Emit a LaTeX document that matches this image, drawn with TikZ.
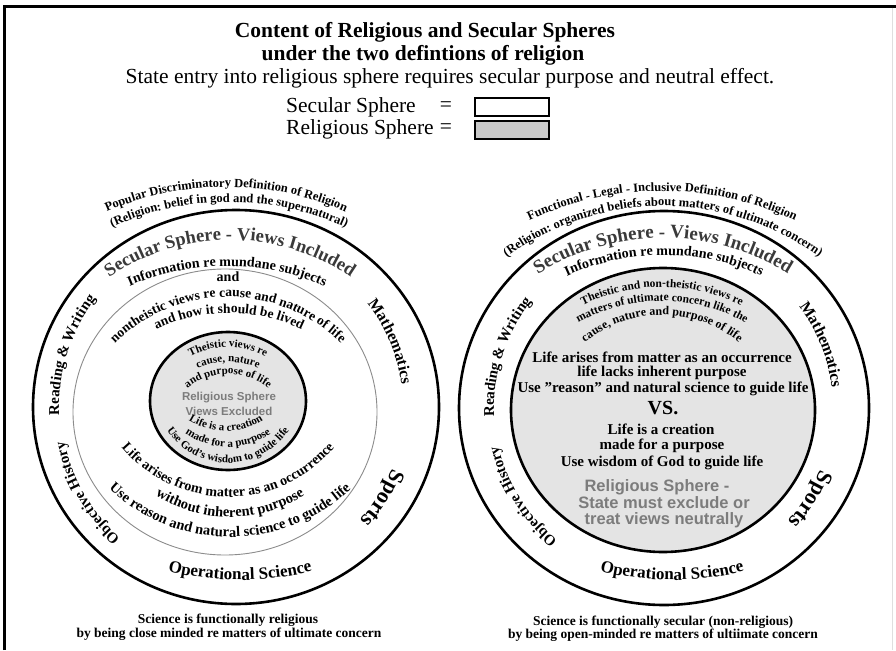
\documentclass[tikz,border=0pt]{standalone}
\usepackage{fontspec}
\setmainfont{Liberation Serif}
\newfontfamily\grsans{Liberation Sans}
\usetikzlibrary{decorations.text}
\definecolor{fillgray}{HTML}{E4E4E4}
\definecolor{boxgray}{HTML}{C8C8C8}
\definecolor{secgray}{HTML}{3A3A3A}
\definecolor{sansgray}{HTML}{7C7C7C}
\definecolor{thingray}{HTML}{8C8C8C}
\newcommand\bsz[1]{\bfseries\fontsize{#1}{#1}\selectfont}
\newcommand\rsz[1]{\fontsize{#1}{#1}\selectfont}
% #1 cx, #2 cy, #3 r, #4 start, #5 end, #6 format, #7 text
\newcommand\arctxt[7]{\path[decorate,decoration={text along path,text align=center,text={|#6|#7}}] ([shift={(#4:#3)}]#1,#2) arc[start angle=#4,end angle=#5,radius=#3];}
\begin{document}
\begin{tikzpicture}[x=1pt,y=-1pt,
  ring/.style={line width=2.6pt},
  thinring/.style={line width=0.9pt,draw=thingray},
  rel/.style={line width=2.6pt,fill=fillgray},
  ttl/.style={font=\bsz{21.5},inner sep=0},
  reg/.style={font=\rsz{21.5},inner sep=0},
  txt/.style={font=\bsz{15},inner sep=0},
  captxt/.style={font=\bsz{13.5},inner sep=0},
  sans/.style={font=\grsans\bsz{16.5},text=sansgray,inner sep=0},
  legbox/.style={draw,line width=1.6pt}]
\useasboundingbox (0,0) rectangle (896,650);
\fill[white] (0,0) rectangle (896,650);
% frame
\draw[line width=3pt] (4.5,650) -- (4.5,6.5) -- (896,6.5);
\draw[gray!25,line width=1pt] (892,8) -- (892,650);

% title and legend
\node[ttl] (t1) at (425,32) {Content of Religious and Secular Spheres};
\node[ttl] (t2) at (423,55) {under the two defintions of religion};
\node[reg] (t3) at (450,78) {State entry into religious sphere requires secular purpose and neutral effect.};
\node[reg,anchor=west] (lg1) at (286,107) {Secular Sphere};
\node[reg] (eq1) at (446,107) {=};
\node[reg,anchor=west] (lg2) at (286,129) {Religious Sphere};
\node[reg] (eq2) at (446,129) {=};
\draw[legbox,fill=white] (475,98) rectangle (549,116);
\draw[legbox,fill=boxgray] (475,121) rectangle (549,139);

% ---------------- left diagram ----------------
\draw[ring] (236,407) ellipse [x radius=203,y radius=197];
\draw[thinring] (225,412) ellipse [x radius=152,y radius=143];
\draw[rel] (228,401) ellipse [x radius=78,y radius=69];

\arctxt{226}{487}{300}{230}{310}{\bsz{12.5}}{Popular Discriminatory Definition of Religion}
\arctxt{229}{482}{280}{225}{315}{\bsz{12.5}}{(Religion: belief in god and the supernatural)}
\arctxt{230}{453}{213}{218}{322}{\bsz{18.5}\color{secgray}}{Secular Sphere - Views Included}
\arctxt{227}{512}{246}{235}{305}{\bsz{14}}{Information re mundane subjects}
\node[font=\bsz{14},inner sep=0] (land) at (228,277) {and};
\arctxt{228}{458}{161}{205}{335}{\bsz{13.5}}{nontheistic views re cause and nature of life}
\arctxt{229}{479}{166}{225}{315}{\bsz{13.5}}{and how it should be lived}

\arctxt{228}{427}{80}{220}{320}{\bsz{11}}{Theistic views re}
\arctxt{228}{437}{75}{220}{320}{\bsz{11}}{cause, nature}
\arctxt{228}{439}{65}{215}{325}{\bsz{11}}{and purpose of life}
\node[font=\grsans\bsz{11.5},text=sansgray,inner sep=0] (lrs1) at (229,398) {Religious Sphere};
\node[font=\grsans\bsz{11.5},text=sansgray,inner sep=0] (lrs2) at (229,411) {Views Excluded};
\arctxt{226}{361}{70}{140}{40}{\bsz{11}}{Life is a creation}
\arctxt{228}{372}{75}{140}{40}{\bsz{11}}{made for a purpose}
\arctxt{228}{390}{73}{165}{15}{\bsz{11}}{Use God's wisdom to guide life}

\arctxt{228}{358}{139}{160}{20}{\bsz{14}}{Life arises from matter as an occurrence}
\arctxt{230}{377}{140}{140}{40}{\bsz{14.5}}{without inherent purpose}
\arctxt{230}{361}{176}{150}{30}{\bsz{14.5}}{Use reason and natural science to guide life}

\arctxt{236}{407}{177}{162}{233}{\bsz{15}}{Reading {\&} Writing}
\arctxt{236}{407}{167}{307}{367}{\bsz{16}}{Mathematics}
\arctxt{236}{407}{175}{120}{180}{\bsz{15}}{Objective History}
\arctxt{236}{407}{168}{7}{57}{\bsz{22}}{Sports}
\arctxt{240}{280}{300}{110}{70}{\bsz{17}}{Operational Science}

\node[captxt] (lc1) at (228,620) {Science is functionally religious};
\node[captxt] (lc2) at (229,634) {by being close minded re matters of ultimate concern};

% ---------------- right diagram ----------------
\draw[ring] (664,408) ellipse [x radius=205,y radius=197];
\draw[rel] (663,410) ellipse [x radius=152,y radius=142];

\arctxt{662}{502}{311}{230}{310}{\bsz{12.5}}{Functional - Legal - Inclusive Definition of Religion}
\arctxt{663}{469}{263}{212}{328}{\bsz{12.5}}{(Religion: organized beliefs about matters of ultimate concern)}
\arctxt{663}{473}{235}{220}{320}{\bsz{19}\color{secgray}}{Secular Sphere - Views Included}
\arctxt{664}{489}{234}{235}{305}{\bsz{14}}{Information re mundane subjects}

\arctxt{662}{467}{180}{225}{315}{\bsz{11.5}}{Theistic and non-theistic views re}
\arctxt{662}{471}{170}{225}{315}{\bsz{11.5}}{matters of ultimate concern like the}
\arctxt{662}{437}{122}{215}{325}{\bsz{12}}{cause, nature and purpose of life}

\node[txt] (r1) at (662,357) {Life arises from matter as an occurrence};
\node[txt] (r2) at (662,373) {life lacks inherent purpose};
\node[txt] (r3) at (663,389) {Use "reason" and natural science to guide life};
\node[font=\bsz{20},inner sep=0] (vs) at (663,408) {VS.};
\node[txt] (r4) at (661,429) {Life is a creation};
\node[txt] (r5) at (662,446) {made for a purpose};
\node[txt] (r6) at (662,463) {Use wisdom of God to guide life};
\node[sans] (rs1) at (657,487) {Religious Sphere -};
\node[sans] (rs2) at (664,503) {State must exclude or};
\node[sans] (rs3) at (664,520) {treat views neutrally};

\arctxt{664}{408}{170}{163}{233}{\bsz{15}}{Reading {\&} Writing}
\arctxt{664}{408}{169}{308}{368}{\bsz{16}}{Mathematics}
\arctxt{664}{408}{170}{118}{178}{\bsz{15}}{Objective History}
\arctxt{664}{408}{168}{7}{57}{\bsz{22}}{Sports}
\arctxt{672}{280}{300}{110}{70}{\bsz{17}}{Operational Science}

\node[captxt] (rc1) at (663,622) {Science is functionally secular (non-religious)};
\node[captxt] (rc2) at (663,635) {by being open-minded re matters of ultiimate concern};
\end{tikzpicture}
\end{document}
